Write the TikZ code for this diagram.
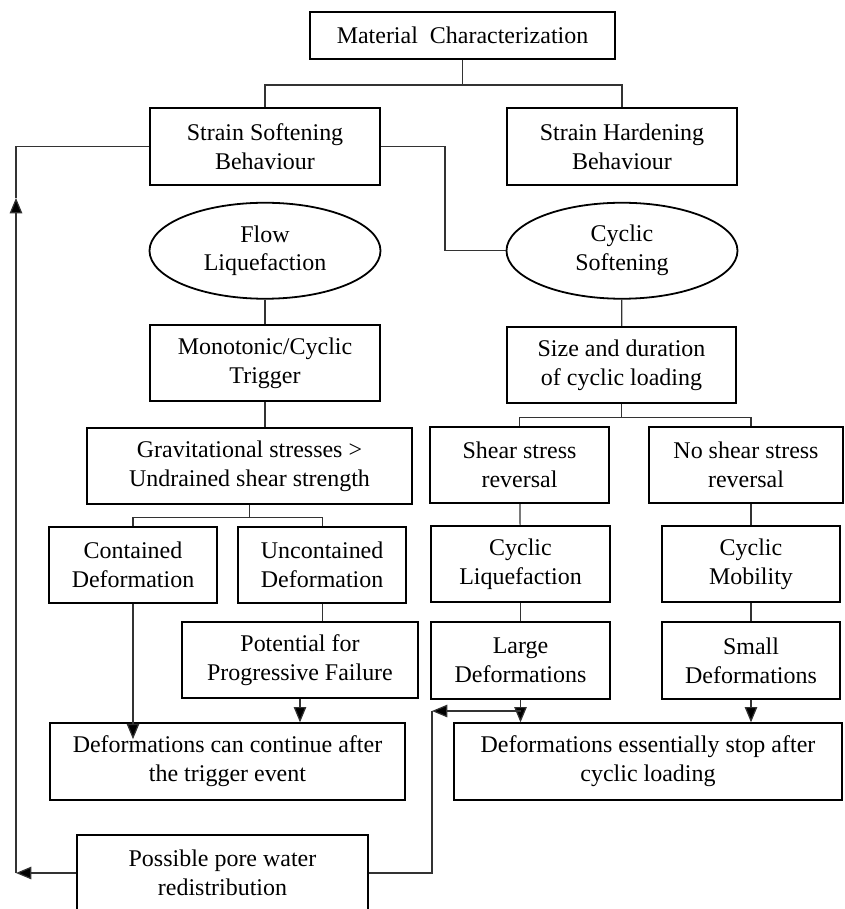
\documentclass[tikz,border=0pt]{standalone}
\usepackage{fontspec}
\setmainfont{Liberation Serif}
\usetikzlibrary{positioning}
\usetikzlibrary{shapes.geometric}
\usetikzlibrary{arrows.meta}
\tikzset{
  box/.style   = { rectangle, draw=black, line width=0.9pt, align=center, inner sep=1pt, minimum height=76.5*0.176mm },
  oval/.style  = { ellipse, draw=black, line width=0.9pt, align=center, inner sep=0pt, minimum width=231*0.176mm, minimum height=96*0.176mm },
  wide/.style  = { minimum width=#1*0.176mm },
  link/.style  = { line width=0.6pt, black!80 },
}

\begin{document}
\begin{tikzpicture}[
  x=0.176mm, y=-0.176mm,
  >={Triangle[length=2.7mm,width=2.2mm,fill=black]},
  font=\fontsize{12}{14.5}\selectfont
]
  \useasboundingbox (0,0) rectangle (845,909);

  \node (mat)    [box,wide=305,minimum height=47*0.176mm] at (462.5,35.5) {Material\ \ Characterization};

  % softening branch
  \node (soft)   [box,wide=230] at (265,146.5)             {Strain Softening\\Behaviour};
  \node (flow)   [oval,below=2.85mm of soft]               {Flow\\Liquefaction};
  \node (mono)   [box,wide=230,below=4.26mm of flow]       {Monotonic/Cyclic\\Trigger};
  \node (grav)   [box,wide=325] at (249.5,466)             {Gravitational stresses >\\Undrained shear strength};
  \node (cont)   [box,wide=168] at (133,565)               {Contained\\Deformation};
  \node (uncont) [box,wide=168,right=3.4mm of cont]        {Uncontained\\Deformation};
  \node (pot)    [box,wide=236] at (300,660)               {Potential for\\Progressive Failure};
  \node (after)  [box,wide=355] at (227.5,761.5)           {Deformations can continue after\\the trigger event};

  % hardening branch
  \node (hard)   [box,wide=230] at (622,146.5)             {Strain Hardening\\Behaviour};
  \node (cyc)    [oval,below=2.85mm of hard]               {Cyclic\\Softening};
  \node (size)   [box,wide=229] at (621.5,365)             {Size and duration\\of cyclic loading};
  \node (shear)  [box,wide=179] at (519.5,465)             {Shear stress\\reversal};
  \node (noshear)[box,wide=194] at (746,465)               {No shear stress\\reversal};
  \node (cycliq) [box,wide=179] at (520.5,564)             {Cyclic\\Liquefaction};
  \node (large)  [box,wide=179,below=3.2mm of cycliq]      {Large\\Deformations};
  \node (mobil)  [box,wide=178] at (751,564)               {Cyclic\\Mobility};
  \node (small)  [box,wide=178,below=3.2mm of mobil]       {Small\\Deformations};
  \node (stop)   [box,wide=388,right=8.3mm of after]       {Deformations essentially stop after\\cyclic loading};

  \node (pore)   [box,wide=291] at (222.5,873)             {Possible pore water\\redistribution};

  \coordinate (back)   at (432,711);
  \coordinate (corner) at (16,873);
  \coordinate (rise)   at (16,198);

  \draw [link] (mat.south) -- ++(0,25) coordinate (split1) -| (soft.north);
  \draw [link] (split1) -| (hard.north);
  \draw [link] (soft.east) -- ++(64,0) |- (cyc.west);

  \draw [link] (flow) -- (mono);
  \draw [link] (mono.south) -- (mono.south |- grav.north);
  \draw [link] (grav.south) -- ++(0,12) coordinate (split2) -| (cont.north);
  \draw [link] (split2) -| (uncont.north);
  \draw [link] (uncont.south) -- (uncont.south |- pot.north);
  \draw [link,->] (pot.south) -- (pot.south |- after.north);
  \draw [link,->] (cont.south) -- ++(0,135);

  \draw [link] (cyc) -- (size);
  \draw [link] (size.south) -- ++(0,13) coordinate (split3) -| (shear.north);
  \draw [link] (split3) -| (mobil.north |- noshear.north);
  \draw [link] (shear) -- (cycliq);
  \draw [link] (cycliq) -- (large);
  \draw [link] (mobil.north |- noshear.south) -- (mobil);
  \draw [link] (mobil) -- (small);
  \draw [link,->] (large.south) -- (large.south |- stop.north);
  \draw [link,->] (small.south) -- (small.south |- stop.north);

  \draw [link,->] (large.south |- back) -- (back);
  \draw [link] (back) |- (pore.east);
  \draw [link,->] (pore.west) -- (corner);
  \draw [link,->] (corner) -- (rise);
  \draw [link] (rise) |- (soft.west);

\end{tikzpicture}
\end{document}
